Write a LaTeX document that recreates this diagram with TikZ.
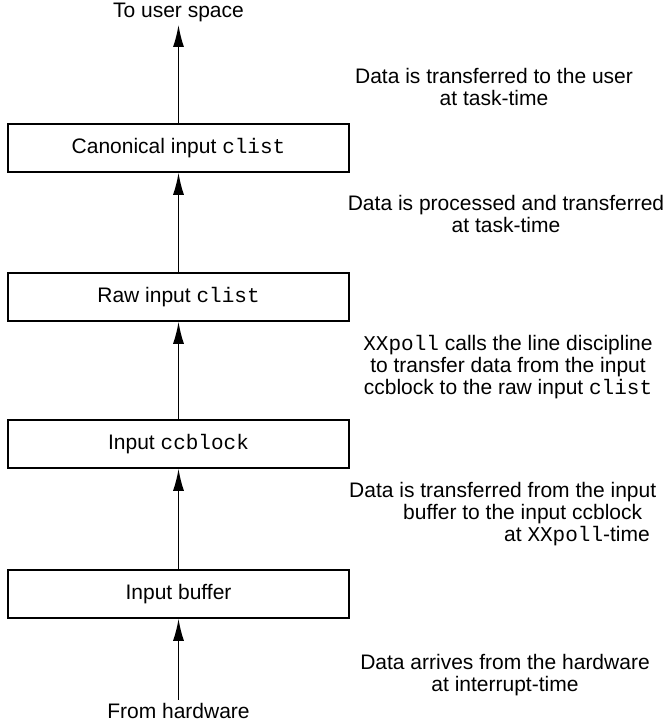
\documentclass[tikz,border=0pt]{standalone}
\usepackage{fontspec}
\setmainfont{Liberation Sans}
\setmonofont{Liberation Mono}
\usetikzlibrary{arrows.meta,positioning}
\tikzset{queue/.style={draw,
    line width=1.5pt,
    minimum width=341pt,
    minimum height=48pt,
    inner sep=0pt
  },
  note/.style={align=center, inner sep=0pt},
  flow/.style={-{Latex[length=22pt,width=11pt]}, line width=1.5pt}
}
\newcommand{\cw}[1]{\texttt{#1}}

\begin{document}
\begin{tikzpicture}[x=1pt,y=-1pt,font=\fontsize{21}{22}\selectfont]
    \useasboundingbox (0,0) rectangle (667,724);
    % the queues, top to bottom
    \node[queue] (canon) at (178.5,148) {Canonical input \cw{clist}};
    \node[queue] (raw) at (178.5,297) {Raw input \cw{clist}};
    \node[queue] (ccb) at (178.5,444) {Input \cw{ccblock}};
    \node[queue] (buf) at (178.5,594) {Input buffer};
    \node (user) at (178.5,12) {To user space};
    \node (hw) at (178.5,711) {From hardware};
    \draw[flow] (hw) -- (buf);
    \draw[flow] (buf) -- (ccb);
    \draw[flow] (ccb) -- (raw);
    \draw[flow] (raw) -- (canon);
    \draw[flow] (canon) -- (user);
    % what happens on each step
    \node[note] (n1) at (494,87) {Data is transferred to the user\\at task-time};
    \node[note] (n2) at (506,214) {Data is processed and transferred\\at task-time};
    \node[note] (n3) at (508,367) {\cw{XXpoll} calls the line discipline\\to transfer data from the input\\ccblock to the raw input \cw{clist}};
    \node[note, align=left, anchor=west] (n4) at (349,514) {Data is transferred from the input\\
      \hspace*{54pt}buffer to the input ccblock\\
      \hspace*{155pt}at \cw{XXpoll}-time};
    \node[note] (n5) at (505,675) {Data arrives from the hardware\\at interrupt-time};
\end{tikzpicture}
\end{document}
